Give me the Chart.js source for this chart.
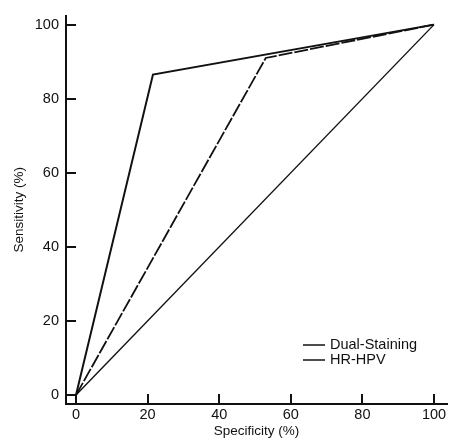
<!DOCTYPE html>
<html>
<head>
<meta charset="utf-8">
<script src="https://cdn.jsdelivr.net/npm/chart.js@4/dist/chart.umd.min.js"></script>
<style>
  html, body { margin: 0; padding: 0; background: #fff; }
  #wrap { width: 449px; height: 443px; }
</style>
</head>
<body>
<div id="wrap"><canvas id="roc"></canvas></div>
<script>
// Data
var tickValues = [0, 20, 40, 60, 80, 100]
var seriesNames = ["Dual-Staining", "HR-HPV"]
var dualX = [0, 21.5, 100]
var dualY = [0, 86.5, 100]
var hpvX = [0, 53, 100]
var hpvY = [0, 91, 100]
var diagX = [0, 100]
var diagY = [0, 100]

function toPoints(xs, ys) {
  return xs.map(function (x, i) { return { x: x, y: ys[i] } })
}

var FONT = "Arial, 'Liberation Sans', Helvetica, sans-serif"
var INK = "#111"

// tick marks pointing into the plot, like the original
var innerTicks = {
  id: 'innerTicks',
  afterDraw: function (chart) {
    var ctx = chart.ctx, xs = chart.scales.x, ys = chart.scales.y
    var a = chart.chartArea
    ctx.save()
    ctx.strokeStyle = INK
    ctx.lineWidth = 2
    ctx.beginPath()
    xs.ticks.forEach(function (t) {
      var px = Math.round(xs.getPixelForValue(t.value))
      ctx.moveTo(px, a.bottom)
      ctx.lineTo(px, a.bottom - 10)
    })
    ys.ticks.forEach(function (t) {
      var py = Math.round(ys.getPixelForValue(t.value))
      ctx.moveTo(a.left, py)
      ctx.lineTo(a.left + 10, py)
    })
    ctx.stroke()
    ctx.restore()
  }
}

// legend sitting inside the plot, bottom right
var innerLegend = {
  id: 'innerLegend',
  afterDraw: function (chart) {
    var ctx = chart.ctx
    ctx.save()
    ctx.font = "14.5px " + FONT
    ctx.textBaseline = 'middle'
    ctx.textAlign = 'left'
    seriesNames.forEach(function (name, i) {
      var ds = chart.data.datasets[i]
      var y = 345 + i * 15
      ctx.strokeStyle = ds.borderColor
      ctx.lineWidth = 1.5
      ctx.beginPath()
      ctx.moveTo(303, y)
      ctx.lineTo(325, y)
      ctx.stroke()
      ctx.fillStyle = INK
      ctx.fillText(name, 330, y)
    })
    ctx.restore()
  }
}

var config = {
  type: 'scatter',
  data: {
    datasets: [{
      label: seriesNames[0],
      data: toPoints(dualX, dualY),
      showLine: true,
      borderColor: INK,
      borderWidth: 2,
      pointRadius: 0
    }, {
      label: seriesNames[1],
      data: toPoints(hpvX, hpvY),
      showLine: true,
      borderColor: INK,
      borderWidth: 1.8,
      borderDash: [14, 2],
      pointRadius: 0
    }, {
      label: 'Reference',
      data: toPoints(diagX, diagY),
      showLine: true,
      borderColor: INK,
      borderWidth: 1.4,
      pointRadius: 0
    }]
  },
  options: {
    responsive: true,
    maintainAspectRatio: false,
    animation: false,
    layout: { padding: { top: 13, right: 2, left: 0, bottom: 0 } },
    plugins: {
      legend: { display: false },
      tooltip: { enabled: false }
    },
    scales: {
      x: {
        type: 'linear',
        min: -2.79,
        max: 103.63,
        afterBuildTicks: function (s) { s.ticks = tickValues.map(function (v) { return { value: v } }) },
        afterFit: function (s) { s.height = 39 },
        grid: { display: true, drawOnChartArea: false, drawTicks: false },
        border: { display: true, color: INK, width: 2 },
        ticks: { color: INK, padding: 2, font: { family: FONT, size: 14.5 } },
        title: {
          display: true,
          text: 'Specificity (%)',
          color: INK,
          font: { family: FONT, size: 13.5 },
          padding: { top: 0, bottom: 4 }
        }
      },
      y: {
        type: 'linear',
        min: -2.41,
        max: 102.41,
        afterBuildTicks: function (s) { s.ticks = tickValues.map(function (v) { return { value: v } }) },
        afterFit: function (s) { s.width = 66 },
        grid: { display: true, drawOnChartArea: false, drawTicks: false },
        border: { display: true, color: INK, width: 2 },
        ticks: { color: INK, padding: 7, font: { family: FONT, size: 14.5 } },
        title: {
          display: true,
          text: 'Sensitivity (%)',
          color: INK,
          font: { family: FONT, size: 13.5 },
          padding: { top: 11, bottom: 0 }
        }
      }
    }
  },
  plugins: [innerTicks, innerLegend]
}

var ctx = document.getElementById("roc")
var rocChart = new Chart(ctx, config)
</script>
</body>
</html>
